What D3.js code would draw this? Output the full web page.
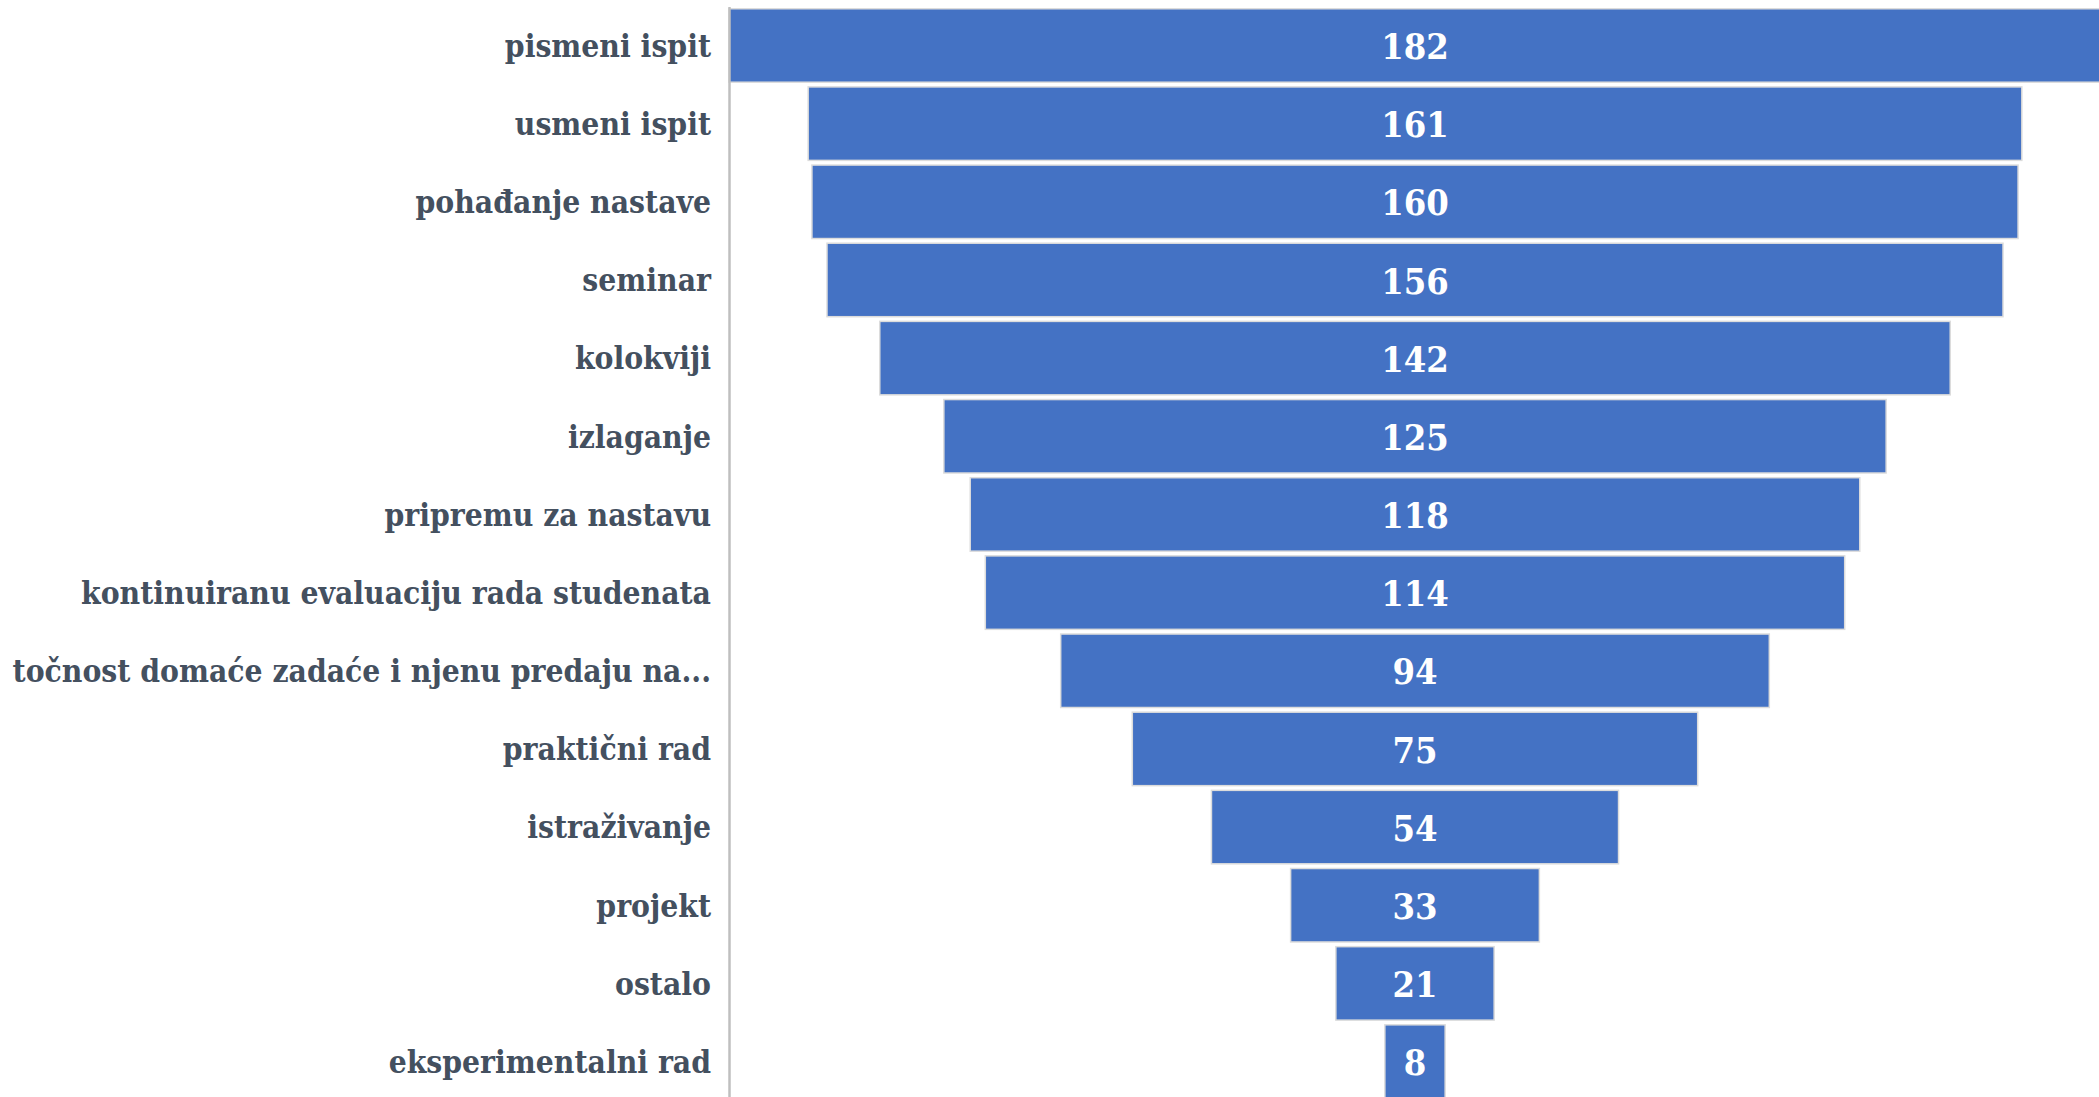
<!DOCTYPE html>
<html>
<head>
<meta charset="utf-8">
<script src="https://cdn.jsdelivr.net/npm/d3@7"></script>
<style>
  body { margin: 0; background: #fff; }
  svg { display: block; }
  .lbl text { font-family: "DejaVu Serif Condensed", "DejaVu Serif", serif; font-weight: bold; font-size: 31.5px; fill: #44505f; }
  .val { font-family: "DejaVu Serif Condensed", "DejaVu Serif", serif; font-weight: bold; font-size: 36px; fill: #fff; }
</style>
</head>
<body>
<div id="funnel"></div>
<script>
// categories, top to bottom
var categories = ["pismeni ispit", "usmeni ispit", "pohađanje nastave", "seminar", "kolokviji",
    "izlaganje", "pripremu za nastavu", "kontinuiranu evaluaciju rada studenata",
    "točnost domaće zadaće i njenu predaju na...", "praktični rad", "istraživanje",
    "projekt", "ostalo", "eksperimentalni rad"];
var counts = [182, 161, 160, 156, 142, 125, 118, 114, 94, 75, 54, 33, 21, 8];

var width = 2099, height = 1097;
var axisX = 729, centerX = 1415;

var svg = d3.select("#funnel").append("svg")
    .attr("width", width)
    .attr("height", height);

// rows
var y = d3.scaleBand()
    .domain(categories)
    .range([6.4, 6.4 + categories.length * 78.16])
    .paddingInner(0.06)
    .paddingOuter(0.03);

// bar widths, centred on one line
var w = d3.scaleLinear()
    .domain([0, d3.max(counts)])
    .range([0, 2 * (centerX - axisX)]);

var data = categories.map(function(c, i) { return {name: c, value: counts[i]}; });

svg.selectAll(".bar")
    .data(data)
    .enter().append("rect")
    .attr("class", "bar")
    .attr("x", function(d) { return centerX - w(d.value) / 2; })
    .attr("y", function(d) { return y(d.name); })
    .attr("width", function(d) { return w(d.value); })
    .attr("height", y.bandwidth())
    .attr("fill", "#4472c4")
    .attr("stroke", "#dcdcdc")
    .attr("stroke-width", 1.5);

svg.selectAll(".val")
    .data(data)
    .enter().append("text")
    .attr("class", "val")
    .attr("x", centerX)
    .attr("y", function(d) { return y(d.name) + y.bandwidth() / 2; })
    .attr("dy", "0.38em")
    .attr("text-anchor", "middle")
    .text(function(d) { return d.value; });

// category axis on the left
var ax = svg.append("g")
    .attr("class", "lbl")
    .attr("transform", "translate(" + axisX + ",0)")
    .call(d3.axisLeft(y).tickSize(0).tickPadding(18));

ax.select(".domain").attr("stroke", "#bfbfbf").attr("stroke-width", 2.5);
ax.selectAll("text").attr("dy", "0.36em");
</script>
</body>
</html>
